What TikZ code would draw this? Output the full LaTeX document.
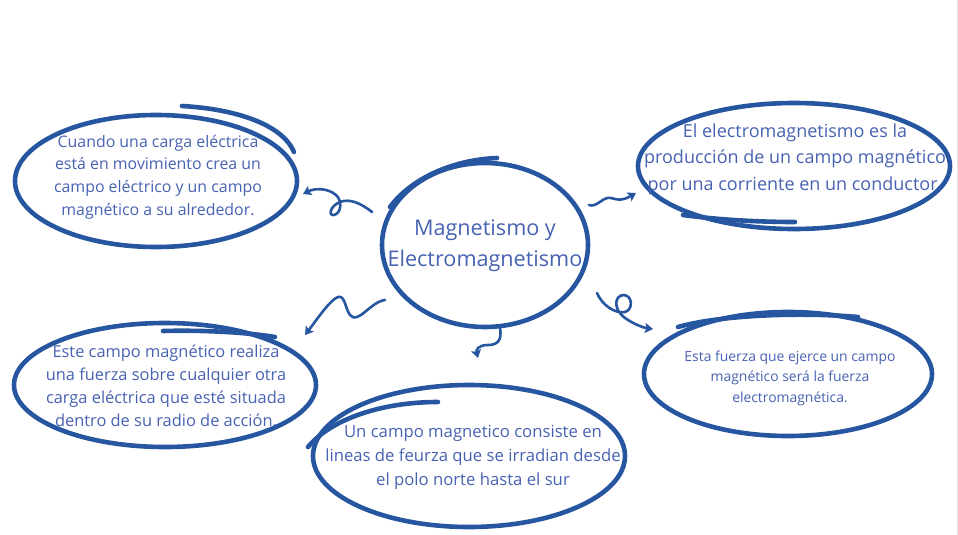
\documentclass[tikz,border=0pt]{standalone}
\usepackage{fontspec}
\setmainfont{Open Sans}
\usetikzlibrary{positioning,arrows.meta,shapes.geometric}
\definecolor{trazo}{HTML}{2756A0}
\definecolor{letra}{HTML}{4862B2}
\definecolor{borde}{HTML}{E6E6E6}

\begin{document}
\begin{tikzpicture}[x=1pt, y=-1pt, >={Stealth[length=8pt, width=10pt, inset=1.5pt]},
      ring/.style={ellipse, draw=trazo, line width=4.6pt, inner sep=0pt},
      repaso/.style={draw=trazo, line width=4.6pt, line cap=round},
      txt/.style={text=letra, align=center, inner sep=0pt},
      squig/.style={draw=trazo, line width=2.6pt, line cap=round, ->}]
    \useasboundingbox (0,0) rectangle (958,535);
    \draw[borde, line width=1.2pt] (957.4,0) -- (957.4,535);
    % anillos
    \node[ring, minimum width=206pt, minimum height=164pt] (centro) at (485,245) {};
    \node[ring, minimum width=282pt, minimum height=132pt] (carga) at (156,181) {};
    \node[ring, minimum width=312pt, minimum height=126pt] (electro) at (794,166) {};
    \node[ring, minimum width=302pt, minimum height=124pt] (fuerza) at (165,385) {};
    \node[ring, minimum width=312pt, minimum height=142pt] (lineas) at (469,456) {};
    \node[ring, minimum width=288pt, minimum height=124pt] (emf) at (788,374) {};
    % trazos sobrantes
    \draw[repaso] (182,106) .. controls (235,109) and (282,124) .. (294,152);
    \draw[repaso] (683,215) .. controls (720,220) and (760,222) .. (795,222);
    \draw[repaso] (390,207) .. controls (410,180) and (450,160) .. (497,158);
    \draw[repaso] (163,331) .. controls (200,330) and (245,332) .. (275,337);
    \draw[repaso] (308,447) .. controls (330,420) and (380,402) .. (438,402);
    \draw[repaso] (678,327) .. controls (720,315) and (800,312) .. (858,317);
    % textos
    \node[txt, font=\fontsize{21.6}{31}\selectfont] (tcentro) at (485,246) {Magnetismo y\\Electromagnetismo};
    \node[txt, font=\fontsize{15.9}{22.7}\selectfont] (tcarga) at (158,177)
      {Cuando una carga eléctrica\\está en movimiento crea un\\campo eléctrico y un campo\\magnético a su alrededor.};
    \node[txt, font=\fontsize{18}{26.5}\selectfont] (telectro) at (795,159)
      {El electromagnetismo es la\\producción de un campo magnético\\por una corriente en un conductor.};
    \node[txt, font=\fontsize{16.4}{23}\selectfont] (tfuerza) at (166,386)
      {Este campo magnético realiza\\una fuerza sobre cualquier otra\\carga eléctrica que esté situada\\dentro de su radio de acción.};
    \node[txt, font=\fontsize{16.7}{24}\selectfont] (tlineas) at (473,457)
      {Un campo magnetico consiste en\\lineas de feurza que se irradian desde\\el polo norte hasta el sur};
    \node[txt, font=\fontsize{13.9}{20.5}\selectfont] (temf) at (790,378)
      {Esta fuerza que ejerce un campo\\magnético será la fuerza\\electromagnética.};
    % extremos de las flechas
    \coordinate (a1) at (372,212); \coordinate (b1) at (303,194);
    \coordinate (a2) at (589,205); \coordinate (b2) at (636,193);
    \coordinate (a3) at (385,300); \coordinate (b3) at (305,335);
    \coordinate (a4) at (500,328); \coordinate (b4) at (478,358);
    \coordinate (a5) at (597,293); \coordinate (b5) at (653,329);
    % flechas
    \draw[squig] (a1) .. controls (362,204) and (350,198) .. (340,202)
        .. controls (330,206) and (328,216) .. (334,215)
        .. controls (342,213) and (342,200) .. (336,195)
        .. controls (328,188) and (315,188) .. (b1);
    \draw[squig] (a2) .. controls (597,208) and (603,196) .. (611,198)
        .. controls (618,200) and (622,201) .. (b2);
    \draw[squig] (a3) .. controls (370,302) and (358,325) .. (350,315)
        .. controls (345,308) and (345,295) .. (338,297)
        .. controls (330,300) and (318,318) .. (b3);
    \draw[squig] (a4) .. controls (502,340) and (498,345) .. (488,345)
        .. controls (478,345) and (476,350) .. (b4);
    \draw[squig] (a5) .. controls (602,305) and (615,314) .. (625,312)
        .. controls (633,310) and (633,296) .. (624,295)
        .. controls (615,295) and (612,308) .. (625,318)
        .. controls (635,325) and (645,328) .. (b5);
\end{tikzpicture}
\end{document}
